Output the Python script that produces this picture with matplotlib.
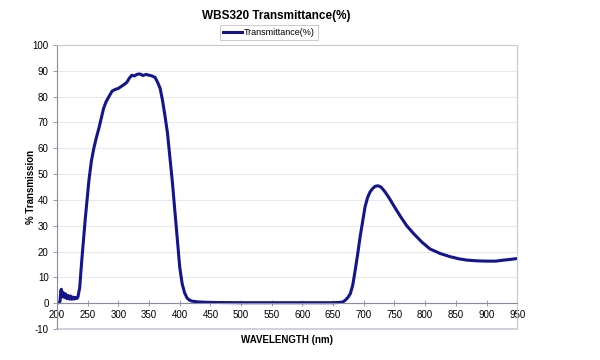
import matplotlib.pyplot as plt

plt.rcParams['font.family'] = ['Liberation Sans', 'DejaVu Sans']
plt.rcParams['axes.unicode_minus'] = False

# wavelength (nm) and transmittance (%)
wavelength = [200, 203, 205, 206, 207, 208, 210, 212, 214, 216, 218, 220, 222, 224, 226, 228,
              230, 232, 234, 237, 240, 243, 246, 249, 252, 256, 260, 264, 268, 272, 276,
              280, 285, 290, 295, 300, 305, 310, 314, 318, 322, 326, 330, 335, 340, 345,
              350, 355, 360, 364, 368, 372, 376, 380, 384, 388, 392, 396, 400, 404, 408,
              412, 416, 420, 430, 450, 500, 550, 600, 650, 660, 666, 670, 674, 678, 682,
              686, 690, 694, 698, 702, 706, 710, 714, 718, 723, 728, 735, 742, 750, 760,
              770, 781, 795, 808, 825, 841, 855, 868, 885, 900, 915, 928, 940, 950]
transmittance = [0.2, 0.2, 0.8, 4.5, 5.4, 2.5, 4.2, 2.2, 3.6, 1.8, 3.0, 1.6, 2.8, 1.5, 2.4, 1.6,
                 2.2, 1.8, 2.3, 6.0, 15.5, 24.0, 32.5, 40.0, 47.5, 55.0, 60.0, 64.0, 67.5, 71.5, 75.5,
                 78.0, 80.2, 82.2, 82.8, 83.2, 84.0, 84.8, 85.6, 87.2, 88.3, 88.0, 88.6, 88.8, 88.2, 88.6,
                 88.3, 88.0, 87.4, 85.5, 83.3, 78.5, 72.5, 66.0, 56.5, 47.0, 36.0, 25.0, 14.0, 7.5, 4.0,
                 2.0, 1.2, 0.8, 0.5, 0.3, 0.2, 0.2, 0.2, 0.2, 0.3, 0.5, 1.2, 2.2, 3.7, 7.0,
                 12.8, 19.0, 25.7, 31.5, 37.3, 40.8, 43.0, 44.3, 45.2, 45.5, 45.0, 43.0, 40.5, 37.3, 33.5,
                 30.0, 27.0, 23.6, 21.0, 19.2, 18.0, 17.2, 16.7, 16.4, 16.3, 16.3, 16.7, 17.0, 17.3]

fig = plt.figure(figsize=(6, 3.6), dpi=100)
ax = fig.add_axes([0.095, 0.086, 0.767, 0.789])

ax.plot(wavelength, transmittance, color='#14148c', linewidth=2.2, solid_joinstyle='round')

ax.set_xlim(200, 950)
ax.set_ylim(-10, 100)
ax.set_xticks(range(200, 951, 50))
ax.set_yticks(range(-10, 101, 10))
ax.grid(axis='y', color='#e8e8ee', linewidth=0.8)
ax.set_axisbelow(True)

# x axis runs along zero, frame kept light
ax.spines['bottom'].set_position(('data', 0))
ax.spines['bottom'].set_color('#8a8aa0')
ax.spines['left'].set_color('#8a8aa0')
for s in ['top', 'right']:
    ax.spines[s].set_color('#c8c8d8')
ax.axhline(-10, color='#c8c8d8', linewidth=1.2, clip_on=False)
ax.tick_params(axis='both', labelsize=7, length=3, width=0.6, color='#8a8aa0', pad=3)
ax.tick_params(axis='x', direction='inout', length=4)

fig.text(0.478, 0.055, 'WAVELENGTH (nm)', ha='center', va='center',
         fontsize=7, fontweight='bold')
fig.text(0.052, 0.48, '% Transmission', ha='center', va='center', rotation=90,
         fontsize=7, fontweight='bold')

fig.text(0.46, 0.956, 'WBS320 Transmittance(%)', ha='center', va='center',
         fontsize=8.5, fontweight='bold')
leg = fig.legend(['Transmittance(%)'], loc='center', bbox_to_anchor=(0.448, 0.91),
                 fontsize=6.5, frameon=True, fancybox=False, handlelength=2.2,
                 borderpad=0.3, handletextpad=0.2, borderaxespad=0)
leg.get_frame().set_edgecolor('#b0b0b8')
leg.get_frame().set_linewidth(0.6)

plt.savefig('out.png', dpi=100)
